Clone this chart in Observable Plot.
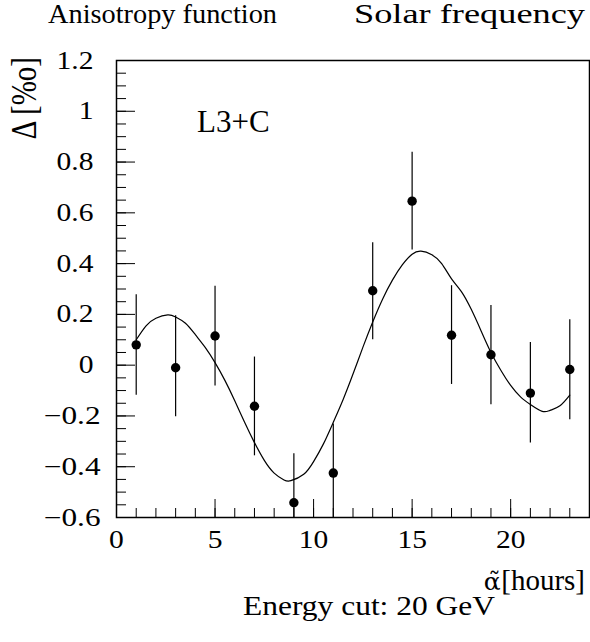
<!DOCTYPE html>
<html><head><meta charset="utf-8">
<script src="https://cdn.jsdelivr.net/npm/d3@7"></script>
<script src="https://cdn.jsdelivr.net/npm/@observablehq/plot@0.6"></script>
<style>html,body{margin:0;padding:0;background:#fff;} svg{display:block}</style>
</head><body><div id="chart"></div>
<script>
// Data points (solar hour bins)
const hours  = [1, 3, 5, 7, 9, 11, 13, 15, 17, 19, 21, 23];
const delta  = [0.08, -0.01, 0.115, -0.162, -0.542, -0.425, 0.293, 0.646, 0.118, 0.041, -0.11, -0.017];
const errUp  = [0.277, 0.195, 0.311, 0.032, -0.349, -0.232, 0.482, 0.839, 0.313, 0.235, 0.089, 0.179];
const errLo  = [-0.118, -0.203, -0.082, -0.357, -0.74, -0.62, 0.10, 0.454, -0.076, -0.156, -0.307, -0.215];

// Fitted curve
const fitX = [1,1.5,2,2.6,3,3.5,4,4.5,5,5.5,6,6.5,7,7.5,8,8.5,8.85,9.5,10,10.5,11,11.5,12,12.5,13,13.5,14,14.5,15,15.45,16,16.5,17,17.5,18,18.5,19,19.5,20,20.5,21,21.6,22,22.5,23];
const fitY = [0.10,0.155,0.185,0.198,0.19,0.165,0.12,0.07,0.01,-0.06,-0.14,-0.225,-0.305,-0.375,-0.425,-0.452,-0.455,-0.43,-0.38,-0.31,-0.225,-0.135,-0.035,0.07,0.17,0.26,0.335,0.395,0.437,0.449,0.435,0.40,0.34,0.29,0.22,0.135,0.05,-0.02,-0.08,-0.125,-0.155,-0.182,-0.178,-0.16,-0.118];

// Axis ticks
const xMajor = [0, 5, 10, 15, 20];
const xMinor = d3.range(1, 24, 1);
const yPos   = [0, 0.2, 0.4, 0.6, 0.8, 1, 1.2];
const yNeg   = [-0.6, -0.4, -0.2];
const yMajor = [-0.6, -0.4, -0.2, 0, 0.2, 0.4, 0.6, 0.8, 1, 1.2];
const yMinor = d3.range(-0.6, 1.2001, 0.05);

const W = 590, H = 642, mL = 116, mR = 1, mT = 60, mB = 125;
const plotW = W - mL - mR, plotH = H - mT - mB;

const points = hours.map((h, i) => ({h, d: delta[i], lo: errLo[i], hi: errUp[i]}));
const fit = fitX.map((x, i) => ({x, y: fitY[i]}));
const fmt = d3.format("");
const ff = "'Liberation Serif', 'Times New Roman', serif";

const chart = Plot.plot({
  width: W, height: H,
  marginLeft: mL, marginRight: mR, marginTop: mT, marginBottom: mB,
  style: {fontFamily: ff, fontSize: "24px", background: "#fff", color: "#000"},
  x: {domain: [0, 24]},
  y: {domain: [-0.6, 1.2]},
  marks: [
    Plot.tickY(yMinor, {y: d => d, insetRight: plotW - 10, stroke: "#000", strokeWidth: 1}),
    Plot.tickY(yMajor, {y: d => d, insetRight: plotW - 19, stroke: "#000", strokeWidth: 1}),
    Plot.tickX(xMinor, {x: d => d, insetTop: plotH - 9, stroke: "#000", strokeWidth: 1}),
    Plot.tickX(xMajor.slice(1), {x: d => d, insetTop: plotH - 18, stroke: "#000", strokeWidth: 1}),
    Plot.axisY({ticks: yPos, tickSize: 0, tickPadding: 23, tickFormat: fmt, label: null, fontSize: 25}),
    Plot.axisY({ticks: yNeg, tickSize: 0, tickPadding: 16, tickFormat: fmt, label: null, fontSize: 25}),
    Plot.axisX({ticks: xMajor, tickSize: 0, tickPadding: 13, tickFormat: fmt, label: null, fontSize: 25}),
    Plot.ruleX(points, {x: "h", y1: "lo", y2: "hi", clip: true, stroke: "#000", strokeWidth: 1.2}),
    Plot.line(fit, {x: "x", y: "y", curve: "natural", stroke: "#000", strokeWidth: 1.2}),
    Plot.dot(points, {x: "h", y: "d", r: 4.7, fill: "#000"}),
    Plot.frame({stroke: "#000", strokeWidth: 1.5})
  ]
});
document.getElementById("chart").appendChild(chart);

// widen tick labels a little, like the reference's glyphs
chart.querySelectorAll('g[aria-label="y-axis tick label"] text, g[aria-label="x-axis tick label"] text').forEach(t => {
  const neg = t.textContent.trim().startsWith("\u2212") || t.textContent.trim().startsWith("-");
  const L = t.getComputedTextLength();
  t.setAttribute("textLength", (L * (neg ? 1.25 : 1.18)).toFixed(1));
  t.setAttribute("lengthAdjust", "spacingAndGlyphs");
});

const svg = d3.select(chart);
function addText(str, x, y, size, len, anchor, family) {
  const t = svg.append("text").attr("x", x).attr("y", y)
    .attr("font-family", family || ff).attr("font-size", size).attr("fill", "#000")
    .attr("text-anchor", anchor || "start").text(str);
  if (len) t.attr("textLength", len).attr("lengthAdjust", "spacingAndGlyphs");
  return t;
}
addText("Anisotropy function", 48, 23, 27, 229);
addText("Solar frequency", 354, 23, 27, 231);
addText("L3+C", 197, 132, 31);

// x-axis title: alpha-tilde (font with proper mark placement), then [hours]
const hrs = addText("[hours]", 585, 590, 29, null, "end");
const wh = hrs.node().getComputedTextLength();
addText("\u03B1\u0303", 585 - wh - 0.5, 590, 25, null, "end", "'DejaVu Serif', serif");

addText("Energy cut: 20 GeV", 369, 615, 27, 252, "middle");
svg.append("text")
  .attr("transform", "translate(36,57) rotate(-90) scale(1,1.25)")
  .attr("font-family", ff).attr("font-size", 29).attr("fill", "#000")
  .attr("text-anchor", "end").text("\u0394 [%o]");
</script>
</body></html>
